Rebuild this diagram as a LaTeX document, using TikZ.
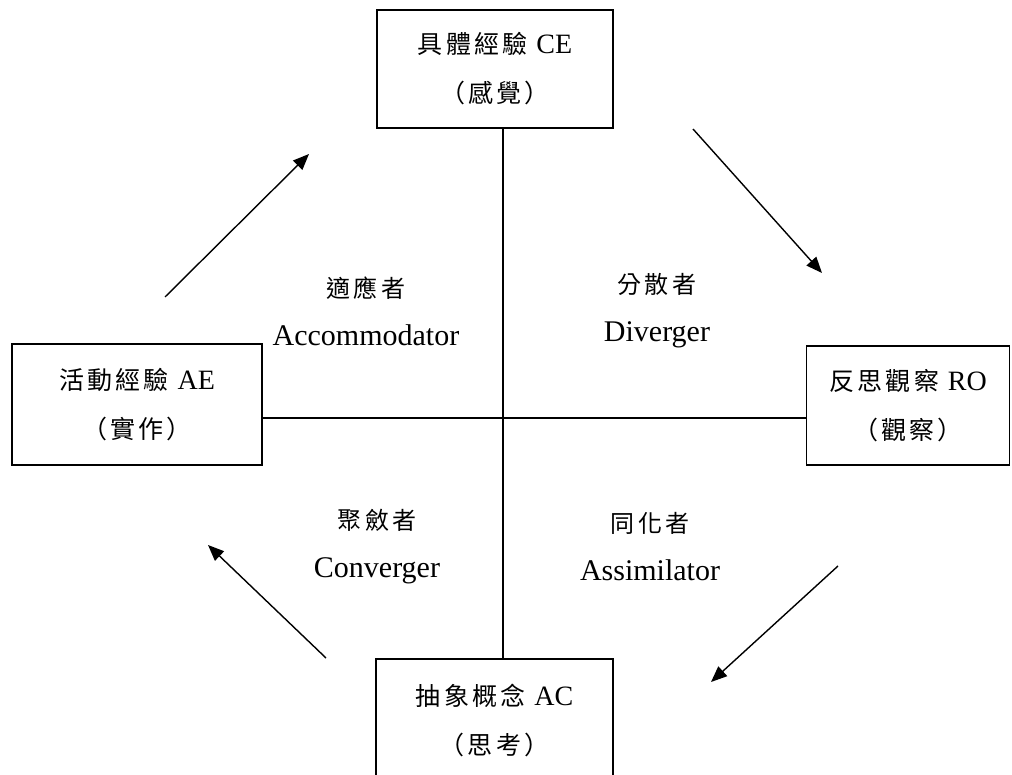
\documentclass[tikz,border=0pt]{standalone}
\usepackage{fontspec}
\setmainfont{Liberation Serif}
\newfontfamily\cjk{Noto Sans CJK TC}
\newfontfamily\cjkwide[LetterSpace=13]{Noto Sans CJK TC}
\usetikzlibrary{arrows.meta}
\newcommand{\boxlat}[1]{{\rmfamily\fontsize{28}{49}\selectfont #1}}
\begin{document}
\begin{tikzpicture}[x=1pt,y=-1pt,
  stagebox/.style={draw,line width=1.8pt,inner sep=0pt,align=center,
    font=\cjkwide\fontsize{25}{49}\selectfont},
  lab/.style={align=center,inner sep=0pt,font=\fontsize{30}{48}\selectfont},
  conn/.style={line width=1.4pt},
  cyc/.style={line width=1.4pt,-{Triangle[length=16pt,width=13pt]}}]
\useasboundingbox (0,0) rectangle (1012,775);
\clip (0,0) rectangle (1012,775);
\fill[white] (0,0) rectangle (1012,775);
\node[stagebox,minimum width=236pt,minimum height=118pt] (ce) at (495,69)
  {具體經驗 \boxlat{CE}\\（感覺）};
\node[stagebox,minimum width=250pt,minimum height=121pt] (ae) at (137,404.5)
  {活動經驗 \boxlat{AE}\\（實作）};
\node[stagebox,minimum width=203pt,minimum height=119pt] (ro) at (908,405.5)
  {反思觀察 \boxlat{RO}\\（觀察）};
\node[stagebox,minimum width=237pt,minimum height=122pt] (ac) at (494.5,720)
  {抽象概念 \boxlat{AC}\\（思考）};
\coordinate (vx) at (503,0);
\coordinate (hy) at (0,418);
\draw[conn] (ce.south -| vx) -- (ac.north -| vx);
\draw[conn] (ae.east |- hy) -- (ro.west |- hy);
\coordinate (a1s) at (165,297); \coordinate (a1e) at (309,154);
\coordinate (a2s) at (693,129); \coordinate (a2e) at (822,273);
\coordinate (a3s) at (838,566); \coordinate (a3e) at (711,682);
\coordinate (a4s) at (326,658); \coordinate (a4e) at (208,545);
\draw[cyc] (a1s) -- (a1e);
\draw[cyc] (a2s) -- (a2e);
\draw[cyc] (a3s) -- (a3e);
\draw[cyc] (a4s) -- (a4e);
\node[lab] (acc) at (366,311) {{\cjkwide\fontsize{24}{24}\selectfont 適應者}\\Accommodator};
\node[lab] (div) at (657,311) {{\cjkwide\fontsize{24}{24}\selectfont 分散者}\\Diverger};
\node[lab] (con) at (377,547) {{\cjkwide\fontsize{24}{24}\selectfont 聚斂者}\\Converger};
\node[lab] (ass) at (650,547) {{\cjkwide\fontsize{24}{24}\selectfont 同化者}\\Assimilator};
\end{tikzpicture}
\end{document}
